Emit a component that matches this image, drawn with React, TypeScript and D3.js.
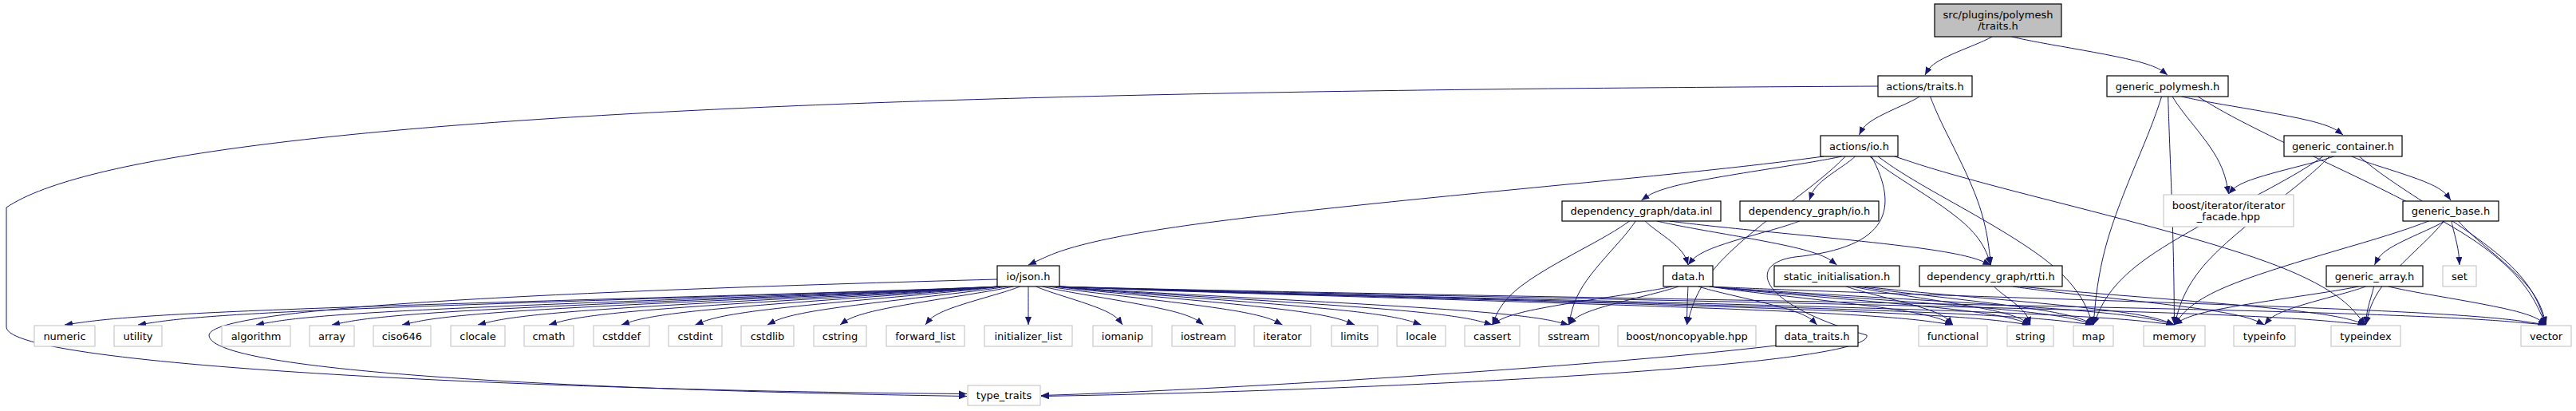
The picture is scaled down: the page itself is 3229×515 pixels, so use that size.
import React from "react";
import * as d3 from "d3";

// node names and their box layout [x0, x1, y0, y1]
const nodeNames = [
  "src/plugins/polymesh\n/traits.h", "actions/traits.h", "generic_polymesh.h", "actions/io.h", "generic_container.h",
  "dependency_graph/data.inl", "dependency_graph/io.h", "boost/iterator/iterator\n_facade.hpp", "generic_base.h",
  "io/json.h", "data.h", "static_initialisation.h", "dependency_graph/rtti.h", "generic_array.h", "set",
  "numeric", "utility", "algorithm", "array", "ciso646", "clocale", "cmath", "cstddef", "cstdint", "cstdlib", "cstring",
  "forward_list", "initializer_list", "iomanip", "iostream", "iterator", "limits", "locale", "cassert", "sstream",
  "boost/noncopyable.hpp", "data_traits.h", "functional", "string", "map", "memory", "typeinfo", "typeindex", "vector",
  "type_traits",
];
const nodeKind = [
  "root", "doc", "doc", "doc", "doc", "doc", "doc", "ext", "doc", "doc", "doc", "doc", "doc", "doc", "ext",
  "ext", "ext", "ext", "ext", "ext", "ext", "ext", "ext", "ext", "ext", "ext", "ext", "ext", "ext", "ext", "ext", "ext", "ext", "ext", "ext",
  "ext", "doc", "ext", "ext", "ext", "ext", "ext", "ext", "ext", "ext",
];
const boxes: number[][] = [
  [2425, 2584, 5, 46], [2354, 2472, 95, 121], [2641, 2793, 95, 121], [2282, 2379, 170, 196], [2863, 3011, 170, 196],
  [1958, 2157, 252, 277], [2181, 2355, 252, 277], [2712, 2875, 244, 284], [3012, 3132, 252, 277],
  [1250, 1328, 333, 359], [2085, 2147, 333, 359], [2224, 2381, 333, 359], [2406, 2585, 333, 359], [2916, 3037, 333, 359], [3062, 3104, 333, 359],
  [43, 119, 408, 434], [143, 203, 408, 434], [278, 364, 408, 434], [388, 444, 408, 434], [468, 540, 408, 434], [565, 633, 408, 434],
  [657, 719, 408, 434], [744, 814, 408, 434], [838, 905, 408, 434], [929, 995, 408, 434], [1020, 1086, 408, 434],
  [1111, 1209, 408, 434], [1234, 1344, 408, 434], [1370, 1444, 408, 434], [1469, 1548, 408, 434], [1572, 1643, 408, 434],
  [1669, 1727, 408, 434], [1751, 1812, 408, 434], [1836, 1905, 408, 434], [1929, 2004, 408, 434],
  [2028, 2201, 408, 434], [2226, 2329, 408, 434], [2405, 2491, 408, 434], [2516, 2574, 408, 434], [2599, 2649, 408, 434],
  [2687, 2764, 408, 434], [2800, 2877, 408, 434], [2922, 3009, 408, 434], [3160, 3223, 408, 434],
  [1213, 1304, 483, 508],
];

const edgeList: [string, string][] = [
  ["src/plugins/polymesh\n/traits.h", "actions/traits.h"], ["src/plugins/polymesh\n/traits.h", "generic_polymesh.h"],
  ["actions/traits.h", "actions/io.h"], ["actions/traits.h", "dependency_graph/rtti.h"],
  ["generic_polymesh.h", "map"], ["generic_polymesh.h", "memory"], ["generic_polymesh.h", "boost/iterator/iterator\n_facade.hpp"],
  ["generic_polymesh.h", "generic_container.h"], ["generic_polymesh.h", "vector"],
  ["generic_container.h", "boost/iterator/iterator\n_facade.hpp"], ["generic_container.h", "map"], ["generic_container.h", "memory"],
  ["generic_container.h", "generic_base.h"], ["generic_container.h", "vector"],
  ["generic_base.h", "memory"], ["generic_base.h", "generic_array.h"], ["generic_base.h", "set"], ["generic_base.h", "typeindex"], ["generic_base.h", "vector"],
  ["generic_array.h", "memory"], ["generic_array.h", "typeinfo"], ["generic_array.h", "typeindex"], ["generic_array.h", "vector"],
  ["actions/io.h", "io/json.h"], ["actions/io.h", "dependency_graph/data.inl"], ["actions/io.h", "dependency_graph/io.h"],
  ["actions/io.h", "dependency_graph/rtti.h"], ["actions/io.h", "typeindex"], ["actions/io.h", "boost/noncopyable.hpp"], ["actions/io.h", "map"],
  ["dependency_graph/data.inl", "data.h"], ["dependency_graph/data.inl", "cassert"], ["dependency_graph/data.inl", "sstream"],
  ["dependency_graph/data.inl", "static_initialisation.h"], ["dependency_graph/data.inl", "dependency_graph/rtti.h"],
  ["dependency_graph/io.h", "data.h"],
  ["data.h", "cassert"], ["data.h", "sstream"], ["data.h", "boost/noncopyable.hpp"], ["data.h", "data_traits.h"], ["data.h", "functional"],
  ["data.h", "string"], ["data.h", "map"], ["data.h", "memory"], ["data.h", "vector"],
  ["static_initialisation.h", "functional"], ["static_initialisation.h", "string"], ["static_initialisation.h", "map"], ["static_initialisation.h", "memory"],
  ["dependency_graph/rtti.h", "string"], ["dependency_graph/rtti.h", "typeinfo"], ["dependency_graph/rtti.h", "typeindex"],
  ["io/json.h", "numeric"], ["io/json.h", "utility"], ["io/json.h", "algorithm"], ["io/json.h", "array"], ["io/json.h", "ciso646"],
  ["io/json.h", "clocale"], ["io/json.h", "cmath"], ["io/json.h", "cstddef"], ["io/json.h", "cstdint"], ["io/json.h", "cstdlib"],
  ["io/json.h", "cstring"], ["io/json.h", "forward_list"], ["io/json.h", "initializer_list"], ["io/json.h", "iomanip"],
  ["io/json.h", "iostream"], ["io/json.h", "iterator"], ["io/json.h", "limits"], ["io/json.h", "locale"], ["io/json.h", "cassert"],
  ["io/json.h", "sstream"], ["io/json.h", "functional"], ["io/json.h", "string"], ["io/json.h", "map"], ["io/json.h", "memory"],
  ["io/json.h", "typeindex"], ["io/json.h", "vector"],
];
// edges into type_traits are routed around the graph
const loopEdges: [string, string][] = [
  ["actions/traits.h", "type_traits"], ["io/json.h", "type_traits"], ["data_traits.h", "type_traits"], ["actions/io.h", "type_traits"],
];

const EDGE = "#191970";

export default function App() {
  const idx = (n: string) => nodeNames.indexOf(n);
  const bx = (n: string) => boxes[idx(n)];
  const line = d3.line<[number, number]>().curve(d3.curveBasis);

  const edgePath = (s: string, t: string) => {
    const a = bx(s), b = bx(t);
    const sx = (a[0] + a[1]) / 2, sy = a[3];
    const tx = (b[0] + b[1]) / 2, ty = b[2] - 1;
    const dx = tx - sx;
    const startX = sx + Math.max(-(a[1] - a[0]) / 2 + 4, Math.min((a[1] - a[0]) / 2 - 4, dx * 0.08));
    const dy = ty - sy;
    return line([[startX, sy], [startX + dx * 0.15, sy + dy * 0.15], [tx - dx * 0.1, ty - dy * 0.35], [tx, ty]]) || "";
  };

  const loopPath = (s: string) => {
    const tt = bx("type_traits");
    const ty = (tt[2] + tt[3]) / 2;
    if (s === "actions/traits.h") {
      const a = bx(s);
      return `M${a[0]},${(a[2] + a[3]) / 2} C1400,113 200,130 8,260 L8,410 C10,460 700,490 ${tt[0] - 1},${ty - 2}`;
    }
    if (s === "io/json.h") {
      const a = bx(s);
      return `M${a[0]},${(a[2] + a[3]) / 2 + 4} C700,365 265,385 262,420 C262,470 800,490 ${tt[0] - 1},${ty + 1}`;
    }
    if (s === "data_traits.h") {
      const a = bx(s);
      return `M${a[0]},${a[3] - 1} C2000,460 1500,490 ${tt[1] + 1},${ty}`;
    }
    return `M2346,196 C2380,260 2370,310 2250,322 C2190,330 2200,380 2340,420 C2350,460 1700,490 ${tt[1] + 1},${ty + 1}`;
  };

  return (
    <svg width={3229} height={515} style={{ position: "absolute", left: 0, top: 0, background: "#fff" }}
      fontFamily="'DejaVu Sans', sans-serif" fontSize={13}>
      <defs>
        <marker id="arr" viewBox="0 0 10 8" refX={10} refY={4} markerWidth={10} markerHeight={8}
          markerUnits="userSpaceOnUse" orient="auto">
          <path d="M0,0 L10,4 L0,8 Z" fill={EDGE} />
        </marker>
      </defs>
      <g fill="none" stroke={EDGE} strokeWidth={1}>
        {edgeList.map(([s, t], i) => (
          <path key={i} d={edgePath(s, t)} markerEnd="url(#arr)" />
        ))}
        {loopEdges.map(([s], i) => (
          <path key={"l" + i} d={loopPath(s)} markerEnd="url(#arr)" />
        ))}
      </g>
      {nodeNames.map((n, i) => {
        const [x0, x1, y0, y1] = boxes[i];
        const k = nodeKind[i];
        const lines = n.split("\n");
        const cx = (x0 + x1) / 2, cy = (y0 + y1) / 2;
        return (
          <g key={n}>
            <rect x={x0} y={y0} width={x1 - x0} height={y1 - y0}
              fill={k === "root" ? "#bfbfbf" : "#fff"}
              stroke={k === "ext" ? "#bfbfbf" : "#000"} strokeWidth={k === "ext" ? 1 : 1.2} />
            {lines.map((l, j) => (
              <text key={j} x={cx} y={cy + (j - (lines.length - 1) / 2) * 14 + 4.5} textAnchor="middle" fill="#000">
                {l}
              </text>
            ))}
          </g>
        );
      })}
    </svg>
  );
}
